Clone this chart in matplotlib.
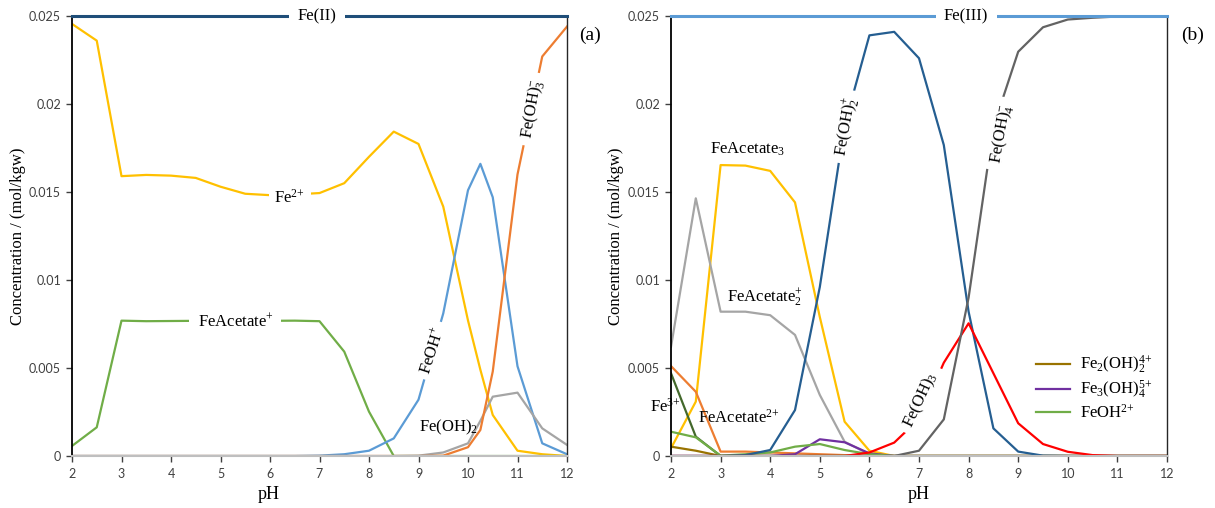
import numpy as np
import matplotlib
matplotlib.use("Agg")
import matplotlib.pyplot as plt

plt.rcParams['font.family'] = ['Liberation Serif', 'DejaVu Serif']
plt.rcParams['mathtext.default'] = 'regular'

# ---- panel (a): Fe(II) species ----
ph_a = [2, 2.5, 3, 3.5, 4, 4.5, 5, 5.5, 6, 6.5, 7, 7.5, 8, 8.5, 9, 9.5, 10, 10.25, 10.5, 11, 11.5, 12]
fe2 = [0.02455, 0.0236, 0.0159, 0.01597, 0.01593, 0.0158, 0.0153, 0.0149, 0.01482, 0.01486, 0.01494,
       0.0155, 0.0170, 0.01843, 0.01773, 0.01417, 0.0077, 0.0049, 0.00233, 0.0003, 0.0001, 0.0]
feacetate_p = [0.00057, 0.00163, 0.00769, 0.00766, 0.00767, 0.00768, 0.00768, 0.00768, 0.00768, 0.00769,
               0.00766, 0.00593, 0.00252, 0.0, 0.0, 0.0, 0.0, 0.0, 0.0, 0.0, 0.0, 0.0]
feoh_p = [0, 0, 0, 0, 0, 0, 0, 0, 0, 0, 0.00002, 0.0001, 0.0003, 0.001, 0.0032, 0.0081, 0.0151, 0.0166,
          0.0147, 0.0051, 0.00072, 0.0001]
feoh2 = [0, 0, 0, 0, 0, 0, 0, 0, 0, 0, 0, 0, 0, 0, 0.00002, 0.0002, 0.00072, 0.002, 0.00337, 0.0036,
         0.00157, 0.00063]
feoh3_m = [0, 0, 0, 0, 0, 0, 0, 0, 0, 0, 0, 0, 0, 0, 0, 0.00002, 0.0005, 0.00148, 0.0048, 0.0160,
           0.0227, 0.0244]
total_a = [0.025] * len(ph_a)

# ---- panel (b): Fe(III) species ----
ph_b = [2, 2.5, 3, 3.5, 4, 4.5, 5, 5.5, 6, 6.5, 7, 7.5, 8, 8.5, 9, 9.5, 10, 10.5, 11, 11.5, 12]
feacetate3 = [0.00044, 0.00309, 0.01653, 0.0165, 0.0162, 0.01441, 0.0079, 0.00195, 0.0003, 0, 0, 0, 0,
              0, 0, 0, 0, 0, 0, 0, 0]
feacetate2_p = [0.0062, 0.01464, 0.0082, 0.0082, 0.0080, 0.00688, 0.00347, 0.00081, 0.0001, 0, 0, 0, 0,
                0, 0, 0, 0, 0, 0, 0, 0]
feacetate_2p = [0.00511, 0.00365, 0.00025, 0.00025, 0.0002, 0.00015, 0.0001, 0.00005, 0, 0, 0, 0, 0, 0,
                0, 0, 0, 0, 0, 0, 0]
fe3 = [0.0047, 0.0011, 0, 0, 0, 0, 0, 0, 0, 0, 0, 0, 0, 0, 0, 0, 0, 0, 0, 0, 0]
feoh_2p = [0.00138, 0.00106, 0.00002, 0.0001, 0.0002, 0.00053, 0.00068, 0.00034, 0.0001, 0, 0, 0, 0, 0,
           0, 0, 0, 0, 0, 0, 0]
fe2oh2 = [0.00053, 0.0003, 0, 0, 0, 0, 0, 0, 0, 0, 0, 0, 0, 0, 0, 0, 0, 0, 0, 0, 0]
fe3oh4 = [0, 0, 0, 0, 0, 0.0001, 0.00095, 0.00078, 0.00015, 0, 0, 0, 0, 0, 0, 0, 0, 0, 0, 0, 0]
feoh2_p = [0, 0, 0, 0.00005, 0.00034, 0.00261, 0.0096, 0.0188, 0.0239, 0.0241, 0.0226, 0.01767, 0.0082,
           0.00157, 0.00025, 0.00002, 0, 0, 0, 0, 0]
feoh3 = [0, 0, 0, 0, 0, 0, 0, 0, 0.0002, 0.00076, 0.0021, 0.0053, 0.00754, 0.0047, 0.00186, 0.00068,
         0.00024, 0.00005, 0, 0, 0]
feoh4_m = [0, 0, 0, 0, 0, 0, 0, 0, 0, 0, 0.0003, 0.00208, 0.0090, 0.0187, 0.02297, 0.02436, 0.0248,
           0.0249, 0.02497, 0.025, 0.025]
total_b = [0.025] * len(ph_b)

W, H = 1215, 508
fig = plt.figure(figsize=(W / 100, H / 100), dpi=100)
ax1 = fig.add_axes([72 / W, 52 / H, 495 / W, 440 / H])
ax2 = fig.add_axes([671 / W, 52 / H, 496 / W, 440 / H])

lw = 1.6
box = dict(facecolor='white', edgecolor='none', pad=2)

# panel (a)
ax1.plot(ph_a, total_a, color='#1F4E79', lw=2.2, clip_on=False, zorder=3)
ax1.plot(ph_a, fe2, color='#FFC000', lw=lw)
ax1.plot(ph_a, feacetate_p, color='#70AD47', lw=lw)
ax1.plot(ph_a, feoh_p, color='#5B9BD5', lw=lw)
ax1.plot(ph_a, feoh2, color='#A5A5A5', lw=lw)
ax1.plot(ph_a, feoh3_m, color='#ED7D31', lw=lw)

ax1.text(6.95, 0.025, 'Fe(II)', fontsize=12, ha='center', va='center', bbox=dict(box, pad=6), zorder=5)
ax1.text(6.4, 0.01466, 'Fe$^{2{+}}$', fontsize=12, ha='center', va='center', bbox=dict(box, pad=4), zorder=5)
ax1.text(5.3, 0.00763, 'FeAcetate$^{+}$', fontsize=12, ha='center', va='center', bbox=dict(box, pad=6), zorder=5)
ax1.text(9.27, 0.0060, 'FeOH$^{+}$', fontsize=12, ha='center', va='center', rotation=72, bbox=dict(box, pad=4), zorder=5)
ax1.text(9.6, 0.0016, 'Fe(OH)$_2$', fontsize=12, ha='center', va='center', zorder=5)
ax1.text(11.3, 0.0197, 'Fe(OH)$_3^{-}$', fontsize=12, ha='center', va='center', rotation=80, bbox=dict(box, pad=5), zorder=5)

# panel (b)
ax2.plot(ph_b, total_b, color='#5B9BD5', lw=2.2, clip_on=False, zorder=3)
ax2.plot(ph_b, feacetate3, color='#FFC000', lw=lw)
ax2.plot(ph_b, feacetate2_p, color='#A5A5A5', lw=lw)
ax2.plot(ph_b, feacetate_2p, color='#ED7D31', lw=lw)
ax2.plot(ph_b, fe3, color='#43682B', lw=lw)
l1, = ax2.plot(ph_b, fe2oh2, color='#997300', lw=lw)
l2, = ax2.plot(ph_b, fe3oh4, color='#7030A0', lw=lw)
l3, = ax2.plot(ph_b, feoh_2p, color='#70AD47', lw=lw)
ax2.plot(ph_b, feoh2_p, color='#255E91', lw=lw)
ax2.plot(ph_b, feoh3, color='#FF0000', lw=lw)
ax2.plot(ph_b, feoh4_m, color='#636363', lw=lw)

ax2.text(7.95, 0.025, 'Fe(III)', fontsize=12, ha='center', va='center', bbox=dict(box, pad=6), zorder=5)
ax2.text(3.55, 0.0174, 'FeAcetate$_3$', fontsize=12, ha='center', va='center', zorder=5)
ax2.text(5.55, 0.0187, 'Fe(OH)$_2^{+}$', fontsize=12, ha='center', va='center', rotation=80, bbox=dict(box, pad=5), zorder=5)
ax2.text(3.9, 0.0090, 'FeAcetate$_2^{+}$', fontsize=12, ha='center', va='center', zorder=5)
ax2.text(1.88, 0.0028, 'Fe$^{3{+}}$', fontsize=12, ha='center', va='center', zorder=5)
ax2.text(3.36, 0.0022, 'FeAcetate$^{2{+}}$', fontsize=12, ha='center', va='center', zorder=5)
ax2.text(7.04, 0.0032, 'Fe(OH)$_3$', fontsize=12, ha='center', va='center', rotation=65, bbox=dict(box, pad=5), zorder=5)
ax2.text(8.66, 0.0183, 'Fe(OH)$_4^{-}$', fontsize=12, ha='center', va='center', rotation=80, bbox=dict(box, pad=5), zorder=5)

ax2.legend([l1, l2, l3], ['Fe$_2$(OH)$_2^{4{+}}$', 'Fe$_3$(OH)$_4^{5{+}}$', 'FeOH$^{2{+}}$'],
           loc='upper left', bbox_to_anchor=(0.72, 0.25), frameon=False, fontsize=12,
           handlelength=2.0, handletextpad=0.6, labelspacing=0.15, borderpad=0)

for ax in (ax1, ax2):
    ax.set_xlim(2, 12)
    ax.set_ylim(0, 0.025)
    ax.set_xticks(range(2, 13))
    ax.set_yticks([0, 0.005, 0.01, 0.015, 0.02, 0.025])
    ax.set_yticklabels(['0', '0.005', '0.01', '0.015', '0.02', '0.025'])
    ax.spines['top'].set_visible(False)
    ax.spines['bottom'].set_color('#BFBFBF')
    ax.spines['bottom'].set_linewidth(1.5)
    ax.spines['left'].set_linewidth(1.3)
    ax.spines['right'].set_linewidth(1.0)
    ax.spines['right'].set_color('#262626')
    ax.tick_params(axis='x', direction='out', length=4, width=1, color='#404040', pad=5,
                   labelsize=9, labelcolor='#404040')
    ax.tick_params(axis='y', direction='out', length=4, width=1, color='#404040', pad=4,
                   labelsize=9, labelcolor='#404040')
    for t in ax.get_xticklabels() + ax.get_yticklabels():
        t.set_family('Lato')
    ax.set_ylabel('Concentration / (mol/kgw)', fontsize=12)
    ax.set_xlabel('pH', fontsize=13)

ax1.yaxis.set_label_coords(-0.093, 0.5)
ax2.yaxis.set_label_coords(-0.094, 0.5)
ax1.xaxis.set_label_coords((269 - 72) / 495, -0.068)
ax2.xaxis.set_label_coords(0.5, -0.068)

fig.text(590 / W, 1 - 35 / H, '(a)', fontsize=14, ha='center', va='center')
fig.text(1193 / W, 1 - 35 / H, '(b)', fontsize=14, ha='center', va='center')

fig.savefig('out.png', dpi=100)
